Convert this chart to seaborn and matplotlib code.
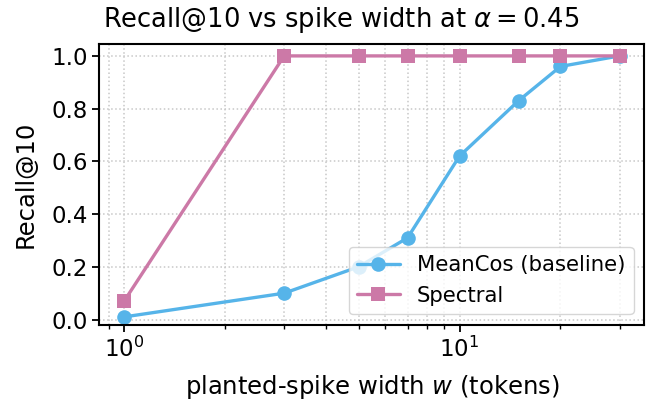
import matplotlib
matplotlib.use("Agg")
import matplotlib.pyplot as plt
import pandas as pd
import seaborn as sns

widths = [1, 3, 5, 7, 10, 15, 20, 30]
meancos = [0.01, 0.10, 0.20, 0.31, 0.62, 0.83, 0.96, 1.00]
spectral = [0.07, 1.00, 1.00, 1.00, 1.00, 1.00, 1.00, 1.00]
methods = ['MeanCos (baseline)', 'Spectral']

sns.set_style('ticks', rc={'text.color': 'black', 'axes.labelcolor': 'black',
                           'xtick.color': 'black', 'ytick.color': 'black',
                           'axes.edgecolor': 'black'})
plt.rcParams['font.family'] = ['DejaVu Sans']

df = pd.concat([
    pd.DataFrame({'w': widths, 'recall': meancos, 'method': methods[0]}),
    pd.DataFrame({'w': widths, 'recall': spectral, 'method': methods[1]}),
], ignore_index=True)

fig, ax = plt.subplots(figsize=(6.67, 4.04), dpi=100)
sns.lineplot(data=df, x='w', y='recall', hue='method', style='method',
             markers={methods[0]: 'o', methods[1]: 's'}, dashes=False,
             palette={methods[0]: '#56B4E9', methods[1]: '#CC79A7'},
             linewidth=2.4, markersize=10.5, markeredgewidth=0, ax=ax)
ax.set_xscale('log')
ax.set_ylim(-0.02, 1.045)
ax.grid(True, which='both', linestyle=':', color='#c8c8c8', linewidth=1.1)
ax.tick_params(which='major', labelsize=16.5, length=5, width=1.3)
ax.tick_params(which='minor', length=3, width=1.0)
ax.set_xlabel('planted-spike width $w$ (tokens)', fontsize=17.5, labelpad=8)
ax.set_ylabel('Recall@10', fontsize=17.5, labelpad=10)
fig.text(0.511, 1 - 27 / 404, r'Recall@10 vs spike width at $\alpha = 0.45$',
         fontsize=18.5, ha='center', va='baseline')
ax.legend(loc='lower right', fontsize=15.3, title=None)
for s in ax.spines.values():
    s.set_linewidth(1.5)
fig.subplots_adjust(left=0.149, right=0.966, top=0.891, bottom=0.196)
fig.savefig('out.png')
